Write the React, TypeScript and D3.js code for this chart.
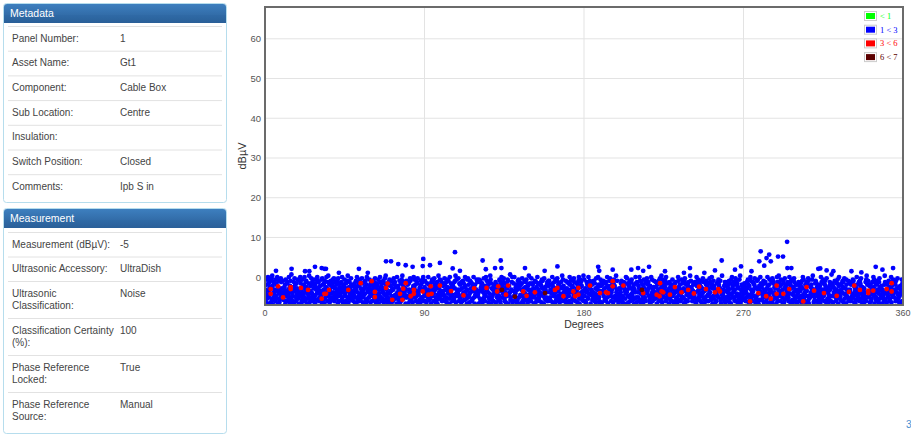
import React from "react";
import * as d3 from "d3";

// ---- Data ----
const metaLabels = ["Panel Number:", "Asset Name:", "Component:", "Sub Location:", "Insulation:", "Switch Position:", "Comments:"];
const metaValues = ["1", "Gt1", "Cable Box", "Centre", "", "Closed", "Ipb S in"];
const measLabels = [["Measurement (dBµV):"], ["Ultrasonic Accessory:"], ["Ultrasonic", "Classification:"], ["Classification Certainty", "(%):"], ["Phase Reference", "Locked:"], ["Phase Reference", "Source:"]];
const measValues = ["-5", "UltraDish", "Noise", "100", "True", "Manual"];

const legendLabels = ["< 1", "1 < 3", "3 < 6", "6 < 7"];
const legendColors = ["#00ff00", "#0000ff", "#ff0000", "#5c0000"];
const xTicks = [0, 90, 180, 270, 360];
const yTicks = [0, 10, 20, 30, 40, 50, 60];

// Dense band of blue points: one string per 10 degrees, one group per degree,
// each letter a value (a = -7.0 dBµV, step 0.32 dBµV per letter)
const CODE = "abcdefghijklmnopqrstuvwxyz";
const blueBand = [
  "kdmhq fuiwb rlgot jcnve xpasg kimdu hrqfw lbojt cemgv sinkh",
  "tgejo mqbuh dlrsk ifwnc pgtmy ejkhb oscvl qdgri nmufk bjthw",
  "rhmce ukpiq gwdnl stobj fmhrx cjlpe vkgsd iqnuf hbrom ejwtk",
  "nsdgk plhiu cvjqe mrbtf gokwn idsxh lqcmf tjepg rukov dhnsi",
  "fqkmt bvhdr oiljn sewgc qkpmu hjdrb ntgxl cfosi kmvqe gphjd",
  "ilrob gtmcw kfpsh dquje nhlvk rcgmi sojtb eqwdf lnkgu phcri",
  "mdtjq hosfl vkcng rpieu bmjhw sgoqd flktn cirve xhpmj dgbsq",
  "jukep ltchn dmrvg qsifo hbwkj pnemt gcdrl ujxqh foski nbmtg",
  "ghqsb rmkdv tlefj icnpw oumgq dkhsr vjbil enoct qgmfu swdhk",
  "otdlh cjrmg wkqei fpnbs luhkt djvqo mgcre sbipx nkfuh qtljd",
  "ekpri hvqmd gscuo ljtnf bwkhr moqdi pfges ntxcj uhlkm vidrg",
  "qmgcs ndhtj rkoew pilfb umvgq hcjtk sndre flpwo gbqih kmuts",
  "hjbul sftdo mqrcn kevgi dphwm tlokq cgfjs xurbn ehimd qoklp",
  "scnqg ikmfe hutdb rlwop gjsvm fdrkc oqhnu tbipj kyegl mswcd",
  "lrhwd kjofq cmetn ugspb iqhmr vdlcg nktjo seufi bpmqx hdrgk",
  "dvmir qgnbh ltkcs fojwe rmhgd kqisp cuntj hbvlf omegk qsdrt",
  "ptfkg mdlqj wrcoh isnbu kegtv lhqmd rcfjo sgixn udpkh jmetc",
  "gnslc jrhdw qmtbk upfoe hvsgi dlkrn mcqjt wfbhu oskpg eilxd",
  "uhdnm ckslq gfwjr otpbi mlqeh sktgd rjncv fimow hqgdl bupks",
  "cqjlt hmnef rsdko wgbpi ntlvh jdkmq sgcru ophfe xkmtj idbgn",
  "imekr tdphc ogsnq lfjwb kvmrh cpqgt dinsu jhelo qbmfk wrgcs",
  "rkgpd nwltj ebsmq hciou fgkdr tmvjl qsnhe cpbgw iukdm lotfh",
  "kfsoh bqgjm tdriv lnexp ckuhs gmqot dwjfl rhikb nsgep jqmdu",
  "hpqbj mrksd fglcn wtoie qjdmh ukfrs gnbtv cleqi mrdpo shkgx",
  "ntoim dglqr jhsfc kbwpe rulmg iqtdh ocnkj vsfgb lmedq trhpi",
  "dmrjv ksgeo wqbnh tfpil cmjdk rhsgu qolnt ebfix kjghm pdscr",
  "sgdlk oqhmt cfjrb uiwnp gklse mdvqh tjrco nfiug xbdmk qphel",
  "fjrmo ldkgs nhuqc ipbew tmgjd kslrh qvocf gndti umbjp elwkr",
  "ojeqh gtcmk rslid fnwpb hjqug lmdks cvetr ikohn pgbfw sdjmx",
  "lshpd uqkjg mbtrc evoin fklqs hgdmw jrcpt nuebi okvsf dmqgh",
  "qbkjm sdgpf lrhoc tnwiu egjkq mcslr hdvtb fpgio kqnum xjhcd",
  "gmrts jdokh cqlfn pbiwe skgmu rhdjq tlocv nefkb igpsm qdhyr",
  "hqcoi kntlg dsmrf ujbpw lgqhe mrkdt oscjv fnibu qhmkg tdelr",
  "mkdqs fhrug tjcol bienw qmkgh sdltr pvjfc oigmb nkhes duxtq",
  "rtgkh pclqd mfjsn iwoub hkreg tqmdl jcsvf onigp lbmhk fdqxs",
  "ejrbl qgmht kdofs nwcpi lhujg rmsqd teknv ifgoc hbpmj kudrq",
];

// Scattered blue points above the band
const blueExtraDeg = [6.2, 15, 22.6, 25, 28.2, 32, 33.5, 34.4, 41.7, 53, 58, 68.3, 71.1, 75.2, 79.4, 83.3, 89.3, 89, 93.1, 98.7, 105.9, 107.2, 110, 122.8, 124.6, 129.8, 133, 133.4, 146.7, 157.8, 165, 188, 188.6, 196.2, 206.7, 210.5, 213.4, 216.7, 225.7, 236.4, 239.8, 247.9, 253.9, 257.7, 265.2, 268.6, 274.5, 278.9, 279.7, 281.7, 283, 284.5, 285.4, 289.5, 292.3, 294.6, 294.8, 297, 312.2, 313.3, 316.9, 320.7, 330.9, 336.5, 344.6, 348.4, 354.4];
const blueExtraVal = [1.6, 2.1, 1.5, 1.5, 2.6, 2.3, 2.1, 2.1, 1.1, 2.1, 1.1, 4.0, 4.0, 3.3, 3.0, 2.6, 4.6, 2.8, 3.0, 3.6, 2.2, 6.3, 1.6, 4.2, 2.0, 2.3, 4.2, 2.3, 2.3, 1.6, 2.7, 2.6, 1.6, 1.9, 1.9, 2.3, 1.6, 2.6, 1.5, 1.1, 2.3, 1.1, 1.7, 4.2, 1.9, 2.7, 1.5, 4.0, 6.5, 2.9, 4.8, 5.7, 4.0, 5.2, 5.2, 8.9, 2.3, 2.3, 2.1, 2.2, 1.7, 1.5, 1.5, 1.2, 2.6, 1.9, 2.3];

const redDeg = [3.2, 3.2, 7.4, 10.2, 14.5, 14.5, 20.3, 24.3, 32, 33.5, 34.4, 36.1, 47, 54, 60.2, 62, 62, 68.3, 69.2, 71.8, 76.2, 77.5, 78, 79.4, 82.2, 84, 84, 89, 92.2, 94, 93.5, 98.7, 105, 112, 118, 125, 131.6, 131, 136, 137.2, 145.7, 147.6, 152.3, 163.6, 165, 168.4, 174, 176.8, 176.8, 175, 183.4, 189, 192.4, 193.5, 196.2, 196.2, 202.2, 213.4, 221, 222.6, 223.8, 222.9, 224.7, 228.5, 231.3, 235, 238.8, 242, 245, 248.8, 253.9, 256.7, 255.8, 273.7, 278.4, 282.8, 285.4, 288.7, 288.7, 292.5, 295.8, 303.7, 305.6, 309.8, 315.4, 322.6, 329.5, 332.5, 335.7, 340.4, 340.4, 343.2, 350.8, 353.6, 353.6];
const redVal = [-3.0, -4.2, -2.3, -5.1, -2.5, -3.0, -2.7, -3.2, -5.4, -4.2, -4.2, -3.2, -3.2, -1.5, -1.0, -3.7, -5.0, -2.7, -1.6, -5.7, -4.2, -5.7, -2.9, -1.5, -4.8, -3.2, -4.2, -3.6, -4.4, -4.2, -2.3, -2.1, -3.5, -4.6, -2.8, -2.7, -2.3, -3.6, -4.4, -2.1, -3.6, -4.7, -3.8, -3.2, -2.7, -4.8, -3.6, -2.7, -4.4, -4.8, -2.1, -4.0, -3.8, -4.0, -1.0, -2.3, -2.1, -4.0, -4.4, -4.8, -3.6, -1.5, -3.8, -4.4, -2.5, -3.8, -3.2, -4.1, -2.4, -3.0, -3.8, -3.6, -3.0, -6.1, -4.0, -4.8, -5.4, -2.1, -4.2, -4.2, -3.0, -6.1, -2.5, -3.4, -4.0, -4.7, -3.7, -2.1, -3.2, -3.4, -4.0, -3.4, -3.0, -1.5, -3.6];

const darkDeg = [133.7, 141, 158, 212.7];
const darkVal = [-3.2, -4.9, -4.0, -3.2];

// ---- Layout ----
const W = 911, H = 435;
const PL = 265, PR = 903, PT = 7, PB = 305;
const R = 2.4;
const FONT = "'Liberation Sans', Arial, Helvetica, sans-serif";

function Panel({ y, h, title, rows }: { y: number; h: number; title: string; rows: { label: string[]; value: string; top: number; height: number }[] }) {
  return (
    <g>
      <rect x={3.5} y={y + 0.5} width={223} height={h} rx={3} fill="#fff" stroke="#b6dded" strokeWidth={1} />
      <rect x={4} y={y + 1} width={222} height={19} rx={3} fill="url(#hdr)" />
      <rect x={4} y={y + 12} width={222} height={8} fill="url(#hdr2)" />
      <text x={10} y={y + 14} fill="#fff" fontSize={10.5} fontFamily={FONT}>{title}</text>
      {rows.map((r, i) => (
        <g key={i}>
          <line x1={8} x2={222} y1={r.top + 0.5} y2={r.top + 0.5} stroke="#e2e2e2" />
          {r.label.map((t, j) => (
            <text key={j} x={12} y={r.top + 15.5 + j * 12.5} fontSize={10} fill="#444" fontFamily={FONT}>{t}</text>
          ))}
          <text x={120} y={r.top + 15.5} fontSize={10} fill="#444" fontFamily={FONT}>{r.value}</text>
        </g>
      ))}
    </g>
  );
}

export default function App() {
  const x = d3.scaleLinear().domain([0, 360]).range([PL, PR]);
  const y = d3.scaleLinear().domain([-7, 68]).range([PB, PT]);

  const band: { d: number; v: number }[] = [];
  blueBand.forEach((line, li) => {
    line.split(" ").forEach((grp, gi) => {
      const deg = li * 10 + gi;
      const n = grp.length;
      for (let i = 0; i < n; i++) {
        band.push({ d: deg + (i + 0.5) / n, v: -7 + 0.32 * CODE.indexOf(grp[i]) });
      }
    });
  });

  const metaRows = metaLabels.map((l, i) => ({ label: [l], value: metaValues[i], top: 26 + i * 24.7, height: 24.7 }));
  let t = 232;
  const measRows = measLabels.map((l, i) => {
    const hgt = 12 + 12.5 * l.length;
    const r = { label: l, value: measValues[i], top: t, height: hgt };
    t += hgt;
    return r;
  });

  return (
    <svg width={W} height={H} style={{ position: "absolute", left: 0, top: 0, background: "#fff" }}>
      <defs>
        <linearGradient id="hdr" x1="0" y1="0" x2="0" y2="1">
          <stop offset="0" stopColor="#3d7fbf" />
          <stop offset="1" stopColor="#2a5f98" />
        </linearGradient>
        <linearGradient id="hdr2" x1="0" y1="0" x2="0" y2="1">
          <stop offset="0" stopColor="#2f6aa6" />
          <stop offset="1" stopColor="#2a5f98" />
        </linearGradient>
        <clipPath id="plotclip">
          <rect x={PL} y={PT} width={PR - PL} height={PB - PT} />
        </clipPath>
      </defs>

      <Panel y={3} h={199} title="Metadata" rows={metaRows} />
      <Panel y={208} h={225} title="Measurement" rows={measRows} />

      {/* grid */}
      {yTicks.map((v) => (
        <line key={"gy" + v} x1={PL} x2={PR} y1={y(v)} y2={y(v)} stroke="#e3e3e3" strokeWidth={1} />
      ))}
      {xTicks.slice(1, -1).map((v) => (
        <line key={"gx" + v} x1={x(v)} x2={x(v)} y1={PT} y2={PB} stroke="#e3e3e3" strokeWidth={1} />
      ))}

      <g clipPath="url(#plotclip)">
        {band.map((p, i) => (
          <circle key={"b" + i} cx={x(p.d)} cy={y(p.v)} r={R} fill="#0000ff" />
        ))}
        {blueExtraDeg.map((d, i) => (
          <circle key={"e" + i} cx={x(d)} cy={y(blueExtraVal[i])} r={R} fill="#0000ff" />
        ))}
        {redDeg.map((d, i) => (
          <circle key={"r" + i} cx={x(d)} cy={y(redVal[i])} r={R} fill="#ff0000" />
        ))}
        {darkDeg.map((d, i) => (
          <circle key={"k" + i} cx={x(d)} cy={y(darkVal[i])} r={R} fill="#6a0000" />
        ))}
      </g>

      {/* border */}
      <rect x={PL} y={PT} width={PR - PL} height={PB - PT} fill="none" stroke="#6b6b6b" strokeWidth={2} />

      {/* ticks */}
      {yTicks.map((v) => (
        <text key={"ty" + v} x={PL - 4} y={y(v) + 3.5} textAnchor="end" fontSize={9.5} fill="#555" fontFamily={FONT}>{v}</text>
      ))}
      {xTicks.map((v) => (
        <text key={"tx" + v} x={x(v)} y={PB + 11} textAnchor="middle" fontSize={9} fill="#555" fontFamily={FONT}>{v}</text>
      ))}
      <text transform={`translate(246,${(PT + PB) / 2}) rotate(-90)`} textAnchor="middle" fontSize={11} fill="#333" fontFamily={FONT}>dBµV</text>
      <text x={(PL + PR) / 2} y={PB + 22.5} textAnchor="middle" fontSize={10.5} fill="#333" fontFamily={FONT}>Degrees</text>

      {/* legend */}
      {legendLabels.map((l, i) => (
        <g key={"lg" + i}>
          <rect x={864.5} y={11.5 + i * 13.7} width={12} height={9} fill="#fff" stroke="#cccccc" />
          <rect x={866} y={13 + i * 13.7} width={9} height={6} fill={legendColors[i]} />
          <text x={880} y={19 + i * 13.7} fontSize={8.5} fill={legendColors[i]} fontFamily="'Liberation Serif', 'Times New Roman', serif">{l}</text>
        </g>
      ))}

      <text x={906} y={428} fontSize={10} fill="#4a90d0" fontFamily={FONT}>3</text>
    </svg>
  );
}
